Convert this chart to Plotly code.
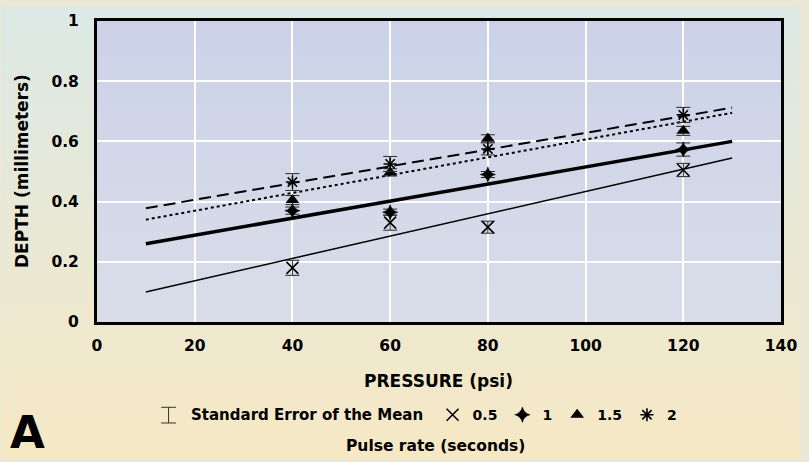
import base64
import plotly.graph_objects as go

# ---------------- data ----------------
pressure = [40, 60, 80, 120]
depth_05 = [0.18, 0.33, 0.315, 0.505]
se_05 = [0.025, 0.025, 0.02, 0.022]
depth_1 = [0.37, 0.365, 0.49, 0.573]
se_1 = [0.012, 0.01, 0.01, 0.022]
depth_15 = [0.405, 0.497, 0.61, 0.635]
se_15 = [0.015, 0.012, 0.012, 0.015]
depth_2 = [0.465, 0.525, 0.575, 0.688]
se_2 = [0.028, 0.025, 0.02, 0.025]

fit_x = [10, 130]
fit_05 = [0.10, 0.545]
fit_1 = [0.26, 0.60]
fit_15 = [0.34, 0.695]
fit_2 = [0.378, 0.712]

x_ticks = [0, 20, 40, 60, 80, 100, 120, 140]
y_ticks = [0, 0.2, 0.4, 0.6, 0.8, 1]

# ---------------- layout geometry ----------------
W, H = 809, 462
L, R, T, B = 97, 19, 15, 140
PW, PH = W - L - R, H - T - B


def xp(px):
    return (px - L) / PW


def yp(py):
    return (H - B - py) / PH


def grad_uri(c1, c2):
    svg = ('<svg xmlns="http://www.w3.org/2000/svg" width="100" height="100" '
           'viewBox="0 0 100 100" preserveAspectRatio="none"><defs>'
           '<linearGradient id="g" x1="0" y1="0" x2="0" y2="1">'
           f'<stop offset="0" stop-color="{c1}"/><stop offset="1" stop-color="{c2}"/>'
           '</linearGradient></defs><rect width="100" height="100" fill="url(#g)"/></svg>')
    return "data:image/svg+xml;base64," + base64.b64encode(svg.encode()).decode()


FONT = "DejaVu Sans"
fig = go.Figure()

# fitted lines
line_specs = [
    (fit_05, dict(color="black", width=1.5)),
    (fit_1, dict(color="black", width=3.5)),
    (fit_15, dict(color="black", width=2, dash="3px,3px")),
    (fit_2, dict(color="black", width=2, dash="12px,6px")),
]
for ys, ln in line_specs:
    fig.add_trace(go.Scatter(x=fit_x, y=ys, mode="lines", line=ln,
                             showlegend=False, hoverinfo="skip"))

# points with standard error bars
series = [
    ("0.5", depth_05, se_05, dict(symbol="x-thin-open", size=12, color="black",
                                  line=dict(width=1.6, color="black"))),
    ("1", depth_1, se_1, dict(symbol="star-diamond", size=11, color="black",
                              line=dict(width=0.5, color="black"))),
    ("1.5", depth_15, se_15, dict(symbol="triangle-up", size=12, color="black",
                                  line=dict(width=0, color="black"))),
    ("2", depth_2, se_2, dict(symbol="asterisk-open", size=11, color="black",
                              line=dict(width=1.6, color="black"))),
]
for name, ys, se, mk in series:
    fig.add_trace(go.Scatter(
        x=pressure, y=ys, mode="markers", name=name, marker=mk,
        error_y=dict(type="data", array=se, visible=True, color="#2a2a2a",
                     thickness=1, width=7)))

# I-beam legend glyph for standard error
ibeam = dict(type="line", xref="paper", yref="paper",
             line=dict(color="#333333", width=1))
shapes = [
    dict(ibeam, x0=xp(162), x1=xp(177), y0=yp(409), y1=yp(409)),
    dict(ibeam, x0=xp(162), x1=xp(177), y0=yp(425), y1=yp(425)),
    dict(ibeam, x0=xp(169.5), x1=xp(169.5), y0=yp(409), y1=yp(425)),
]

annotations = [
    dict(text="PRESSURE (psi)", x=xp(443), y=yp(382), xref="paper", yref="paper",
         showarrow=False, xanchor="center", yanchor="middle",
         font=dict(family=FONT, size=17, weight="bold", color="black")),
    dict(text="DEPTH (millimeters)", x=xp(21), y=yp(168), xref="paper", yref="paper",
         showarrow=False, xanchor="center", yanchor="middle", textangle=-90,
         font=dict(family=FONT, size=17, weight="bold", color="black")),
    dict(text="Standard Error of the Mean", x=xp(429), y=yp(417), xref="paper",
         yref="paper", showarrow=False, xanchor="right", yanchor="middle",
         font=dict(family=FONT, size=15, weight="bold", color="black")),
    dict(text="Pulse rate (seconds)", x=xp(440), y=yp(448), xref="paper", yref="paper",
         showarrow=False, xanchor="center", yanchor="middle",
         font=dict(family=FONT, size=15.5, weight="bold", color="black")),
    dict(text="A", x=xp(27), y=yp(464), xref="paper", yref="paper",
         showarrow=False, xanchor="center", yanchor="bottom",
         font=dict(family=FONT, size=45, weight="bold", color="black")),
]

images = [
    dict(source=grad_uri("#dce9e6", "#f6e8c4"), xref="paper", yref="paper",
         x=-L / PW, y=1 + T / PH, sizex=W / PW, sizey=H / PH,
         xanchor="left", yanchor="top", sizing="stretch", layer="below"),
    dict(source=grad_uri("#cbd2e8", "#dadde9"), xref="paper", yref="paper",
         x=0, y=1, sizex=1, sizey=1,
         xanchor="left", yanchor="top", sizing="stretch", layer="below"),
]

tickfont = dict(family=FONT, size=15.5, weight="bold", color="black")
fig.update_layout(
    width=W, height=H,
    margin=dict(l=L, r=R, t=T, b=B),
    paper_bgcolor="#ebe9d6",
    plot_bgcolor="rgba(0,0,0,0)",
    images=images,
    shapes=shapes,
    annotations=annotations,
    showlegend=True,
    legend=dict(orientation="h", x=xp(437), y=yp(417), xanchor="left",
                yanchor="middle", bgcolor="rgba(0,0,0,0)", borderwidth=0,
                font=dict(family=FONT, size=14, weight="bold", color="black"),
                itemclick=False, itemdoubleclick=False),
    xaxis=dict(range=[0, 140], tickvals=x_ticks, ticks="", showgrid=True,
               gridcolor="white", gridwidth=1.5, zeroline=False,
               showline=True, linecolor="black", linewidth=3, mirror=True,
               tickfont=tickfont, ticklabelstandoff=7),
    yaxis=dict(range=[0, 1], tickvals=y_ticks, ticks="", showgrid=True,
               gridcolor="white", gridwidth=1.5, zeroline=False,
               showline=True, linecolor="black", linewidth=3, mirror=True,
               tickfont=tickfont, ticklabelstandoff=12),
)

fig.write_html("out.html", config={"displayModeBar": False},
               post_script="document.body.style.margin='0';")
